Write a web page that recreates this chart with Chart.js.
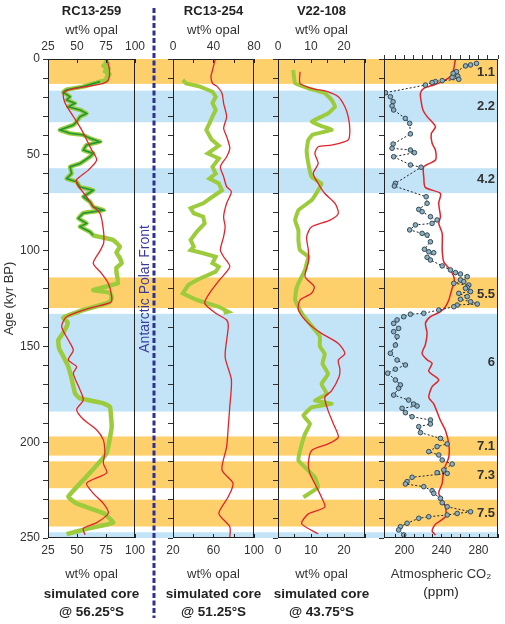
<!DOCTYPE html>
<html>
<head>
<meta charset="utf-8">
<script src="https://cdn.jsdelivr.net/npm/chart.js@4.4.1/dist/chart.umd.min.js"></script>
<style>
  body { margin: 0; background: #fff; width: 505px; height: 624px; overflow: hidden; position: relative; }
  canvas { position: absolute; top: 0; }
</style>
</head>
<body>
<canvas id="p1" width="156" height="624" style="left:0px"></canvas>
<canvas id="p2" width="113" height="624" style="left:156px"></canvas>
<canvas id="p3" width="105" height="624" style="left:269px"></canvas>
<canvas id="p4" width="131" height="624" style="left:374px"></canvas>
<script>
// marine isotope stages (kyr BP)
const orangeBands = [[0, 13], [114, 130], [197, 207], [210, 224], [230, 244]];
const blueBands = [[16.5, 33], [57, 70], [133, 184], [247, 250]];
const stageNames = ['1.1', '2.2', '4.2', '5.5', '6', '7.1', '7.3', '7.5'];
const stageAges = [6.8, 24.5, 63, 123, 158.5, 202, 217.6, 237];

// RC13-259 measured opal (wt%)
const rc259Age = [0.5, 2, 3.5, 5, 6.5, 8, 9.5, 11, 11.8, 14.4, 16, 17.3, 19.7, 21.4, 23.1, 24.9, 26.6, 28.4, 30.1, 32.7, 34.5, 37, 38.8, 39.7, 41.4, 43.2, 44.9, 47.5, 49.3, 51, 54.5, 56.3, 59.8, 62.4, 64.1, 66.8, 68.5, 71.9, 74.5, 77.2, 78.9, 80.5, 83.2, 85.8, 87.5, 90.2, 92, 94.5, 98, 101, 104, 106.6, 109, 112, 117, 120.6, 122, 124.5, 127, 131, 135, 137.5, 139.7, 143, 146.7, 151, 155, 160.6, 166, 174.5, 177, 179.7, 181.5, 192, 205.7, 216, 228.4, 232, 237, 242, 245, 248];
const rc259Opal = [74, 76.5, 72.7, 77.5, 74, 78.2, 75.5, 76, 69.8, 55.4, 41, 38.2, 44, 41, 48.3, 42.5, 52.6, 58.3, 52.6, 49.7, 46.8, 35.3, 44, 55.4, 61.2, 69.8, 58.3, 55.4, 64, 61.2, 52.6, 44, 45.4, 41, 49.7, 52.6, 64, 55.4, 61.2, 64, 72.7, 55.4, 51.1, 58.3, 52.6, 61.2, 64, 81.3, 87, 84, 87, 88.5, 84, 84.2, 85.4, 64, 78.4, 80, 78, 55.4, 38.2, 42, 41, 38, 33.9, 34.5, 38, 42.5, 45, 48.3, 52, 72.7, 78.4, 79.9, 75.6, 61.2, 42.5, 49.7, 72.7, 81.3, 60, 41];
// simulated core @ 56.25°S
const sim56Age = [0.5, 5.7, 11, 12.7, 14.4, 16, 17.9, 23, 30, 37, 44, 47.5, 52.7, 58, 63, 65.8, 71.9, 77, 80.5, 89, 96, 100, 106.6, 112, 117, 124, 127, 130, 134.5, 139.7, 146.7, 152, 157, 160.6, 164, 172.7, 178, 183, 188, 193.6, 198.8, 205.7, 211, 216, 221.4, 226.7, 231.9, 237, 242, 245, 248.4];
const sim56Opal = [76, 78, 77, 72.7, 58.3, 44, 38.2, 39.7, 46.8, 54, 59.8, 62.7, 67, 59.8, 49.7, 50.6, 58.3, 64, 69.8, 72.7, 73, 70, 64, 71.3, 77, 79.9, 79, 61, 41, 36.8, 42.5, 46.8, 42.5, 49.7, 46.8, 52.6, 55.4, 49.7, 55.4, 67, 72.7, 74, 72.7, 75.6, 58.3, 64, 72.7, 77, 67, 55.4, 57];

// RC13-254 measured opal (wt%)
const rc254Age = [11, 12.7, 14.4, 17.1, 19.7, 23, 26.6, 30.1, 33.6, 37, 42, 45.2, 49.3, 51.9, 56.3, 59.8, 62.4, 65, 68.5, 71.9, 75.3, 77.9, 80.5, 82.3, 85.8, 90.1, 94.5, 97.9, 99.7, 101.4, 103.2, 106.6, 108.4, 111, 115.3, 118, 122.3, 125.8, 129.3, 131.9, 132.5];
const rc254Opal = [9.6, 13, 26.7, 39, 42.2, 39, 42.2, 39, 36, 32.9, 38, 45.3, 34.4, 45.3, 39, 42.2, 36, 45.3, 48.4, 39, 29.8, 17.4, 20.5, 29.8, 31.3, 23.6, 17.4, 20.5, 17.4, 29.8, 42.2, 39, 45.3, 42.2, 23.6, 15, 9.6, 23.6, 45.3, 54.6, 50];
// simulated core @ 51.25°S
const sim51Age = [0.5, 5.7, 9.2, 12.7, 14.4, 17.9, 23.1, 30.1, 36.2, 40.5, 46.6, 51, 56.2, 61.4, 66.6, 69.3, 75.3, 82.3, 87.5, 92.7, 99.7, 103.2, 108.4, 115.3, 122.3, 127.5, 132.7, 136.2, 139.7, 155.4, 167.5, 181.4, 191.9, 202.3, 214.5, 221.5, 228.5, 237.2, 244.1, 250];
const sim51Opal = [61.6, 59.1, 57.5, 59.1, 63.7, 68.4, 70, 73, 70, 73, 76.1, 73, 66.8, 70, 73, 77.7, 73, 70, 71.5, 70, 66.8, 70, 76.1, 66, 56, 51.3, 62.2, 73, 74.6, 71.5, 77.7, 76.1, 74.6, 73, 68.4, 79.3, 74.6, 65.3, 76.1, 76.1];

// V22-108 measured opal (wt%)
const v22Age = [5.7, 12.7, 15.3, 17.9, 21.4, 24.9, 28.4, 30.1, 32.7, 35, 37, 39.5, 42.3, 47.5, 54.5, 61.5, 65, 68.5, 73.7, 78.9, 84.1, 89.4, 94.6, 99.8, 103.2, 106.7, 110.1, 117, 120.6, 125.8, 132.7, 141.4, 144.9, 150, 154, 159, 164.4, 169.6, 174.8, 178.3, 180, 181.8, 186.1, 190.4, 195.6, 204.3, 209.6, 214.8, 218.3, 223.5, 228.7];
const v22Opal = [4.6, 5.2, 9.2, 14.2, 16.3, 17.3, 15.2, 13.2, 10.2, 13.2, 16.3, 10.5, 9.2, 8.7, 9.2, 10.2, 13.2, 12.2, 10.2, 6.2, 5.2, 6.2, 6.2, 6.7, 9.2, 8.7, 8.2, 6.2, 5.5, 5.2, 7.2, 11.2, 12.7, 12.7, 14.2, 13.5, 15.2, 13.2, 14.8, 11.2, 16.3, 10.2, 7.7, 9.7, 8.2, 6.7, 6.2, 9.2, 11.2, 12.2, 7.7];
// simulated core @ 43.75°S
const sim43Age = [6.6, 12.7, 15.3, 17.1, 19.7, 24.9, 30.1, 37, 42.3, 44.9, 45.8, 49.3, 54.5, 59.7, 65, 70.2, 75.4, 80.6, 84.1, 87.6, 92.8, 99.8, 106, 113.6, 118.8, 122.3, 125.8, 131, 138, 143.2, 148.5, 153.7, 157.2, 162, 166, 173.1, 176.6, 183.5, 190.4, 197.4, 200.9, 204.3, 211.3, 216.5, 221.7, 228.7, 233.9, 237.4, 242.6, 247.8];
const sim43Opal = [6.7, 6.7, 10.2, 15.2, 18.3, 20.3, 21.3, 21.8, 21.3, 16.3, 12.2, 11.2, 12.2, 10.7, 12.2, 14.2, 17.3, 18.3, 15.8, 10.2, 8.7, 9.2, 9.2, 8.2, 11, 10.2, 6.7, 6.2, 9.2, 13.2, 18.3, 20.3, 18.3, 18.8, 18.5, 16.3, 14.2, 15.2, 16.8, 18.3, 15.2, 10.2, 9.2, 9.7, 11.2, 13.2, 14.2, 9.2, 7.2, 12.2];

// ice core CO2 (ppm)
const co2Age = [2.3, 3.1, 3.6, 6.6, 7.5, 8.9, 9.6, 10.6, 11.3, 11.8, 12.3, 13.6, 17.6, 19.7, 22.3, 24.5, 26.6, 31, 33.6, 39.1, 44.4, 46.6, 47.5, 48.9, 51, 55.3, 56.5, 64.9, 66.3, 71.9, 75.3, 78.5, 79.7, 82.3, 84, 85.8, 86.6, 89.2, 91, 91.9, 95.4, 99.3, 100.6, 101.1, 103.5, 104.9, 108, 110.1, 111.5, 112.2, 113.6, 115.3, 116.2, 117.1, 118, 119.2, 119.7, 121.4, 122.3, 124, 125.4, 126.7, 127.9, 128.4, 129.3, 131, 132.7, 133.2, 134.5, 136.2, 138, 140.6, 142.3, 144.9, 149.3, 153.6, 157.1, 159.7, 161.9, 164, 167.5, 170.1, 171.9, 175.4, 178, 180.1, 181.1, 182.3, 184.6, 186.7, 188.4, 190.5, 191.9, 195, 198, 200.9, 202.3, 204.9, 206.7, 209.3, 211.4, 214.5, 215.9, 216.3, 218.3, 220.6, 221.8, 223.2, 225.3, 226.7, 229.3, 231.6, 233.7, 236.3, 237.2, 238, 238.9, 239.7, 242.3, 244.1, 245.8, 248.4];
const co2Ppm = [277.8, 271.4, 266, 256.2, 252.6, 257.6, 251.5, 258.7, 240.8, 233.5, 229.9, 222.7, 179.5, 184.9, 187.8, 186.7, 188.4, 201, 205.7, 206.5, 187.8, 186.7, 206.5, 210.8, 188.4, 206.5, 218, 190.3, 189.2, 223.5, 224.5, 215.5, 219.1, 228.1, 235.3, 229.9, 211.9, 205.7, 219.1, 224.5, 228.1, 221.6, 226.3, 231.7, 224.5, 228.1, 240.8, 249.7, 255.1, 260.5, 267.8, 260.5, 264.1, 253.3, 269.5, 267.8, 265.9, 271.4, 258.7, 267.8, 260.5, 271.4, 278.6, 257, 253.3, 237.1, 220.9, 206.5, 199.3, 192.1, 188.4, 193.8, 188.4, 192.1, 190.3, 184.9, 192.1, 201.1, 190.3, 182, 190.3, 195.7, 193.8, 188.4, 204.6, 210, 213.7, 197.5, 201.1, 208.3, 228.1, 228.1, 215.5, 217.3, 238.9, 246.2, 235.3, 226.3, 237.1, 240.8, 251.6, 242.5, 235.3, 246.2, 208.3, 202.9, 201.1, 220.9, 229.9, 231.7, 238.9, 240.8, 246.2, 271.4, 257, 246.2, 226.3, 215.5, 202.9, 195.7, 193.8, 199.3];
// simulated atmospheric CO2 (ppm)
const simCo2Age = [0.2, 5.7, 9.2, 11.8, 13.6, 15.3, 17.9, 23.1, 26.6, 30.1, 35.3, 39, 44, 47.5, 52.7, 56.3, 62, 67, 70.2, 75.3, 82.3, 85.8, 91, 99.8, 106, 110.1, 115.3, 120.6, 125.8, 129.3, 131.9, 134.5, 138, 143, 149, 153.7, 157, 158.9, 163, 167.5, 171, 176.6, 180, 188.7, 193.9, 200.9, 207.8, 214.5, 221.5, 226.7, 233.7, 238.9, 242.8, 246.3, 248.4];
const simCo2Ppm = [255, 253, 249.7, 240.8, 231.7, 220.9, 217.3, 218.4, 220, 224.5, 233.5, 229, 229.9, 233.5, 233.5, 220.9, 221, 222.5, 238.9, 237, 238.9, 237.1, 240.8, 240.8, 242.6, 249.7, 254, 251, 247.9, 244.3, 238.9, 228.1, 222.7, 224.5, 222.7, 219.1, 224.5, 229.9, 226.3, 237.1, 229.9, 226.3, 231.7, 238.9, 244.3, 247.9, 247.9, 242.5, 240.8, 237.1, 244.3, 244.3, 233.5, 229.9, 233.5];

const RED = '#e3232b', LIME = '#9ccb3c', DARKGREEN = '#1e9638';
const ORANGE = '#fdd06c', SKY = '#c3e4f6', INK = '#222';
const FONT = "'Liberation Sans', Arial, sans-serif";

Chart.defaults.font.family = FONT;
Chart.defaults.color = '#333';
Chart.defaults.animation = false;

const pts = (ages, vals) => ages.map((a, i) => ({ x: vals[i], y: a }));

const decor = {
  id: 'decor',
  beforeDraw(chart, args, o) {
    const { ctx, chartArea: a, scales: { y } } = chart;
    const x0 = o.fromArea ? a.left : 0;
    const x1 = o.toArea ? a.right : chart.width;
    ctx.save();
    const fill = (bands, c) => bands.forEach(([s, e]) => {
      const t = y.getPixelForValue(s), b = y.getPixelForValue(e);
      ctx.fillStyle = c;
      ctx.fillRect(x0, t, x1 - x0, b - t);
    });
    fill(orangeBands, ORANGE);
    fill(blueBands, SKY);
    ctx.restore();
  },
  afterDatasetsDraw(chart, args, o) {
    const { ctx, chartArea: a, scales } = chart;
    const y = scales.y;
    const mid = (a.left + a.right) / 2;
    ctx.save();
    ctx.strokeStyle = INK;
    ctx.lineWidth = 1;
    ctx.strokeRect(a.left + 0.5, a.top + 0.5, a.right - a.left - 1, a.bottom - a.top - 1);
    // tick marks pointing into the panel
    (o.inward || []).forEach(id => {
      const s = scales[id];
      const edge = s.position === 'top' ? a.top : a.bottom;
      const dir = s.position === 'top' ? 1 : -1;
      ctx.beginPath();
      s.ticks.forEach(t => {
        const px = Math.round(s.getPixelForValue(t.value)) + 0.5;
        ctx.moveTo(px, edge);
        ctx.lineTo(px, edge + dir * 4);
      });
      ctx.stroke();
    });
    // core name above, simulated core caption below (centred on the panel)
    ctx.fillStyle = INK;
    ctx.textAlign = 'center';
    ctx.textBaseline = 'middle';
    if (o.head) {
      ctx.font = 'bold 13px ' + FONT;
      ctx.fillText(o.head, mid, 11);
    }
    ctx.font = (o.footBold ? 'bold ' : '') + '13.5px ' + FONT;
    (o.foot || []).forEach((t, i) => ctx.fillText(t, mid, o.footY + i * 18));
    if (o.stages) {
      ctx.fillStyle = '#333';
      ctx.font = 'bold 13px ' + FONT;
      ctx.textAlign = 'right';
      stageNames.forEach((n, i) => ctx.fillText(n, a.right - 3, y.getPixelForValue(stageAges[i])));
    }
    if (o.front) {
      ctx.strokeStyle = '#2e3192';
      ctx.lineWidth = 3;
      ctx.setLineDash([5, 2.5]);
      ctx.beginPath();
      ctx.moveTo(154, 8);
      ctx.lineTo(154, 618);
      ctx.stroke();
      ctx.translate(145, y.getPixelForValue(120));
      ctx.rotate(-Math.PI / 2);
      ctx.fillStyle = '#3b3b9e';
      ctx.font = '14px ' + FONT;
      ctx.textAlign = 'center';
      ctx.fillText('Antarctic Polar Front', 0, 0);
    }
    ctx.restore();
  }
};

function yAxis(width, labels) {
  return {
    type: 'linear', position: 'left', reverse: true, min: 0, max: 250,
    afterFit: s => { s.width = width; },
    border: { display: false },
    grid: { drawOnChartArea: false, tickLength: 5, tickColor: '#333' },
    ticks: { stepSize: 10, autoSkip: false, display: labels, padding: 3, font: { size: 12 },
             callback: v => (v % 50 === 0 ? v : '') },
    title: { display: labels, text: 'Age (kyr BP)', font: { size: 13 }, padding: { top: 2, bottom: 0 } }
  };
}

// inward = tick marks drawn by the decor plugin inside the panel
function xAxis(pos, min, max, step, shown, title, inward) {
  return {
    type: 'linear', position: pos, min: min, max: max,
    afterFit: s => { s.height = pos === 'top' ? 40.4 : 45; },
    border: { display: false },
    grid: { drawOnChartArea: false, drawTicks: !inward, tickLength: 4, tickColor: '#333' },
    ticks: { stepSize: step, autoSkip: false, maxRotation: 0, padding: inward ? 5 : 1, font: { size: 12 },
             callback: v => (shown.includes(v) ? v : '') },
    title: { display: !!title, text: title || '', font: { size: 13 },
             padding: pos === 'top' ? { top: 4, bottom: 0 } : { top: 0, bottom: 1 } }
  };
}

function panel(id, o) {
  return new Chart(document.getElementById(id), {
    type: 'scatter',
    data: { datasets: o.datasets },
    plugins: [decor],
    options: {
      responsive: false,
      devicePixelRatio: 1,
      layout: { padding: { top: 18.6, bottom: 41, left: 0, right: o.right } },
      elements: { point: { radius: 0 }, line: { tension: 0.25 } },
      scales: { y: yAxis(o.yWidth, o.yLabels), xTop: o.xTop, x: o.x },
      plugins: {
        legend: { display: false },
        tooltip: { enabled: false },
        decor: o.decor
      }
    }
  });
}

const line = (data, axis, color, width) => ({ data: data, xAxisID: axis, yAxisID: 'y', showLine: true,
  borderColor: color, borderWidth: width, pointRadius: 0, fill: false });

const lime59 = pts(rc259Age, rc259Opal);
panel('p1', {
  yWidth: 48, yLabels: true, right: 21,
  xTop: xAxis('top', 25, 100, 25, [25, 50, 75, 100], 'wt% opal', true),
  x: xAxis('bottom', 25, 100, 25, [25, 50, 75, 100], 'wt% opal', true),
  decor: { fromArea: true, front: true, inward: ['xTop', 'x'],
           head: 'RC13-259', foot: ['simulated core', '@ 56.25°S'], footBold: true, footY: 594 },
  datasets: [
    line(pts(sim56Age, sim56Opal), 'x', RED, 1.3),
    Object.assign(line(lime59.filter(p => p.y >= 11.5 && p.y <= 92.5), 'xTop', DARKGREEN, 1.6), { tension: 0 }),
    Object.assign(line(lime59, 'xTop', LIME, 4.5), { tension: 0.1 })
  ]
});

panel('p2', {
  yWidth: 17, yLabels: false, right: 10,
  xTop: xAxis('top', 0, 80, 20, [0, 40, 80], 'wt% opal', true),
  x: xAxis('bottom', 20, 100, 20, [20, 60, 100], 'wt% opal', true),
  decor: { inward: ['xTop', 'x'],
           head: 'RC13-254', foot: ['simulated core', '@ 51.25°S'], footBold: true, footY: 594 },
  datasets: [
    line(pts(sim51Age, sim51Opal), 'x', RED, 1.3),
    Object.assign(line(pts(rc254Age, rc254Opal), 'xTop', LIME, 4), { tension: 0 })
  ]
});

panel('p3', {
  yWidth: 9, yLabels: false, right: 9,
  xTop: xAxis('top', 0, 26.4, 5, [0, 10, 20], 'wt% opal', true),
  x: xAxis('bottom', 0, 26.4, 5, [0, 10, 20], 'wt% opal', true),
  decor: { inward: ['xTop', 'x'],
           head: 'V22-108', foot: ['simulated core', '@ 43.75°S'], footBold: true, footY: 594 },
  datasets: [
    line(pts(sim43Age, sim43Opal), 'x', RED, 1.3),
    Object.assign(line(pts(v22Age, v22Opal), 'xTop', LIME, 4), { tension: 0.1 })
  ]
});

panel('p4', {
  yWidth: 10, yLabels: false, right: 7,
  xTop: xAxis('top', 178, 301, 10, [], '', false),
  x: xAxis('bottom', 178, 301, 10, [200, 240, 280], 'Atmospheric CO₂', true),
  decor: { toArea: true, stages: true, inward: ['x'], foot: ['(ppm)'], footBold: false, footY: 592 },
  datasets: [
    { data: pts(co2Age, co2Ppm), xAxisID: 'x', yAxisID: 'y', showLine: true, tension: 0,
      borderColor: '#222', borderWidth: 1, borderDash: [2, 2],
      pointRadius: 2.3, pointBackgroundColor: '#8db0bf', pointBorderColor: '#34495a', pointBorderWidth: 1 },
    line(pts(simCo2Age, simCo2Ppm), 'x', RED, 1.5)
  ]
});
</script>
</body>
</html>
